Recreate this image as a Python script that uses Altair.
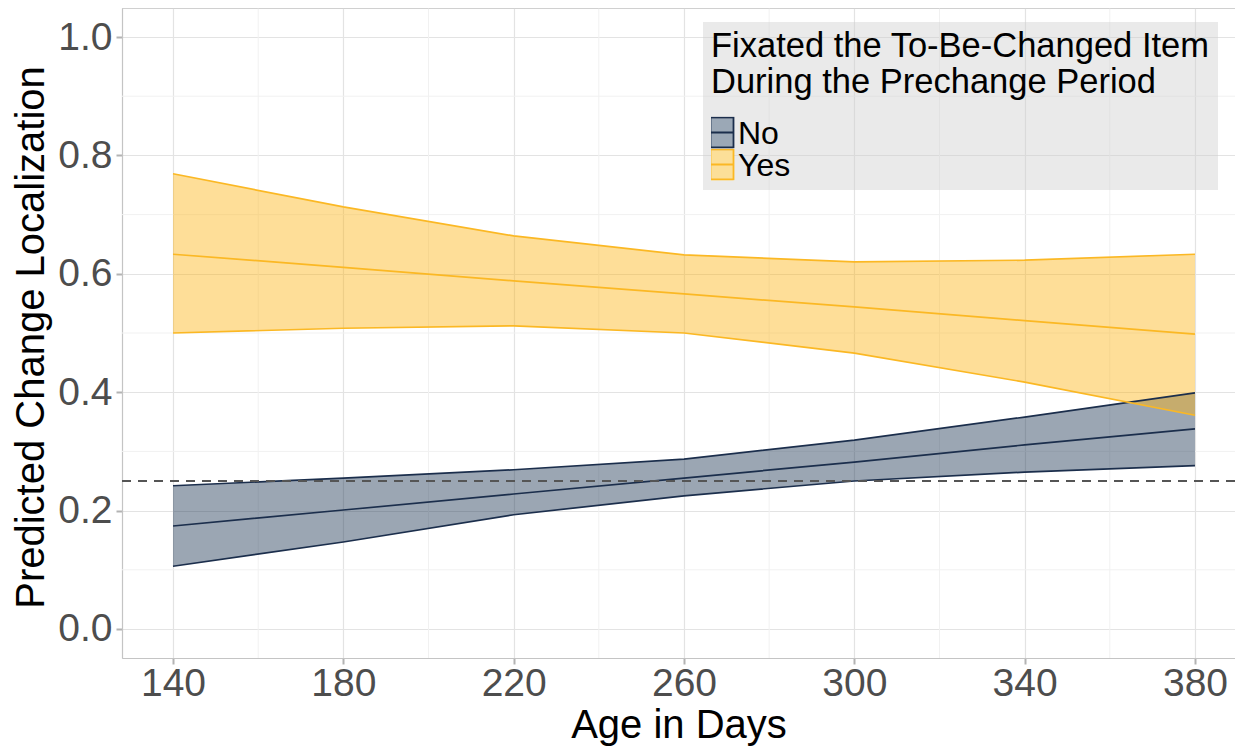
import altair as alt
import pandas as pd

# ---- data ----
ages = [140, 180, 220, 260, 300, 340, 380]
no_fit = [0.174, 0.201, 0.228, 0.255, 0.282, 0.311, 0.338]
no_lower = [0.106, 0.147, 0.193, 0.225, 0.250, 0.265, 0.276]
no_upper = [0.242, 0.255, 0.269, 0.287, 0.319, 0.358, 0.399]
yes_fit = [0.633, 0.611, 0.588, 0.566, 0.544, 0.521, 0.498]
yes_lower = [0.500, 0.508, 0.512, 0.500, 0.466, 0.417, 0.361]
yes_upper = [0.769, 0.713, 0.664, 0.632, 0.620, 0.623, 0.633]
groups = ["No", "Yes"]
chance_level = [0.25]

x_major = [140, 180, 220, 260, 300, 340, 380]
x_minor = [160, 200, 240, 280, 320, 360]
y_major = [0.0, 0.2, 0.4, 0.6, 0.8, 1.0]
y_minor = [0.1, 0.3, 0.5, 0.7, 0.9]

legend_title = ["Fixated the To-Be-Changed Item", "During the Prechange Period"]
x_title = "Age in Days"
y_title = "Predicted Change Localization"

fill_colors = ["#1C3553", "#FDB515"]      # ribbon fills (drawn translucent)
key_colors = ["#9BA8B6", "#FCDF98"]       # same fills as they look on white, for legend keys
line_colors = ["#1B2E4C", "#FBB824"]

FONT = "Liberation Sans"

# ---- tables built from the arrays ----
series = {
    "No": (no_lower, no_fit, no_upper),
    "Yes": (yes_lower, yes_fit, yes_upper),
}
ribbon_rows, line_rows = [], []
for g in groups:
    lo, fit, up = series[g]
    for i, a in enumerate(ages):
        ribbon_rows.append({"age": a, "group": g, "lower": lo[i], "upper": up[i]})
        for name, arr in (("lower", lo), ("fit", fit), ("upper", up)):
            line_rows.append({"age": a, "group": g, "bound": name, "value": arr[i]})
ribbon_df = pd.DataFrame(ribbon_rows)
line_df = pd.DataFrame(line_rows)
chance_df = pd.DataFrame({"chance": chance_level})
xminor_df = pd.DataFrame({"xm": x_minor})
yminor_df = pd.DataFrame({"ym": y_minor})

x_scale = alt.Scale(domain=[128.02, 389.4], nice=False, zero=False)
y_scale = alt.Scale(domain=[-0.049, 1.049], nice=False, zero=False)

x_axis = alt.Axis(
    values=x_major, title=x_title, grid=True, gridColor="#E3E3E3", gridWidth=1.2,
    domain=True, domainColor="#C4C4C4", domainWidth=1.2,
    ticks=True, tickColor="#B3B3B3", tickSize=6, tickWidth=2,
    labelFont=FONT, labelFontSize=39, labelColor="#4D4D4D", labelPadding=31,
    labelBaseline="alphabetic", labelFlush=False, labelOverlap=False,
    titleFont=FONT, titleFontSize=40, titleFontWeight="normal", titleColor="black",
    titleY=79, titleBaseline="alphabetic",
)
y_axis = alt.Axis(
    values=y_major, format=".1f", title=y_title, grid=True, gridColor="#E3E3E3", gridWidth=1.2,
    domain=True, domainColor="#C4C4C4", domainWidth=1.2,
    ticks=True, tickColor="#B3B3B3", tickSize=6, tickWidth=2,
    labelFont=FONT, labelFontSize=39, labelColor="#4D4D4D", labelPadding=4,
    labelFlush=False, labelOverlap=False,
    titleFont=FONT, titleFontSize=40, titleFontWeight="normal", titleColor="black",
    titleAngle=270, titleX=-79, titleY=329, titleAlign="center", titleBaseline="alphabetic",
)

KEY_PATH = "M-1,-1.3H1V1.3H-1Z M-1,0H1"
common_key = dict(
    orient="none", legendX=581, direction="vertical", padding=8,
    labelFont=FONT, labelFontSize=32, labelColor="black", labelOffset=0, labelLimit=300,
    symbolType=KEY_PATH, symbolSize=529, symbolOpacity=1, symbolOffset=-5,
    symbolStrokeWidth=1.8, clipHeight=32, rowPadding=0,
)
# legend with title, labels and the filled keys
fill_legend = alt.Legend(
    title=legend_title, legendY=14, fillColor="rgba(204,204,204,0.42)",
    titleFont=FONT, titleFontSize=34.5, titleFontWeight="normal", titleColor="black",
    titleLineHeight=36, titlePadding=17, titleLimit=800, zindex=1,
    **common_key,
)
# outlines of the same keys, laid exactly over the filled ones
stroke_legend = alt.Legend(
    title=None, legendY=100.5, labelExpr="''", zindex=2, **common_key,
)

X = lambda f: alt.X(f, scale=x_scale, axis=x_axis)
Y = lambda f: alt.Y(f, scale=y_scale, axis=y_axis)

minor_x = alt.Chart(xminor_df).mark_rule(color="#F1F1F1", strokeWidth=1).encode(x=X("xm:Q"))
minor_y = alt.Chart(yminor_df).mark_rule(color="#F1F1F1", strokeWidth=1).encode(y=Y("ym:Q"))

ribbons = alt.Chart(ribbon_df).mark_area(fillOpacity=0.44, strokeWidth=0).encode(
    x=X("age:Q"), y=Y("lower:Q"), y2="upper:Q",
    fill=alt.Fill("group:N", scale=alt.Scale(domain=groups, range=fill_colors), legend=None),
)

keys = alt.Chart(ribbon_df).mark_area(opacity=0).encode(
    x=X("age:Q"), y=Y("lower:Q"), y2="upper:Q",
    fill=alt.Fill("group:N", scale=alt.Scale(domain=groups, range=key_colors), legend=fill_legend),
)

lines = alt.Chart(line_df).mark_line(strokeWidth=1.7).encode(
    x=X("age:Q"), y=Y("value:Q"),
    stroke=alt.Stroke("group:N", scale=alt.Scale(domain=groups, range=line_colors), legend=stroke_legend),
    detail="bound:N",
)

chance = alt.Chart(chance_df).mark_rule(color="#555555", strokeWidth=2, strokeDash=[9, 7]).encode(
    y=Y("chance:Q")
)

# top edge of the panel frame
top_frame = alt.Chart(chance_df).mark_rule(color="#C4C4C4", strokeWidth=1.2).encode(
    y=alt.value(0)
)

chart = alt.layer(minor_x, minor_y, ribbons, keys, lines, chance, top_frame).resolve_scale(
    fill="independent"
).properties(
    width=1113, height=650,
    autosize=alt.AutoSizeParams(type="none"),
    padding={"left": 114, "top": 0, "right": 0, "bottom": 88},
).configure_view(stroke=None).configure(background="white")

chart.save("out.html", embed_options={"renderer": "svg", "actions": False})
